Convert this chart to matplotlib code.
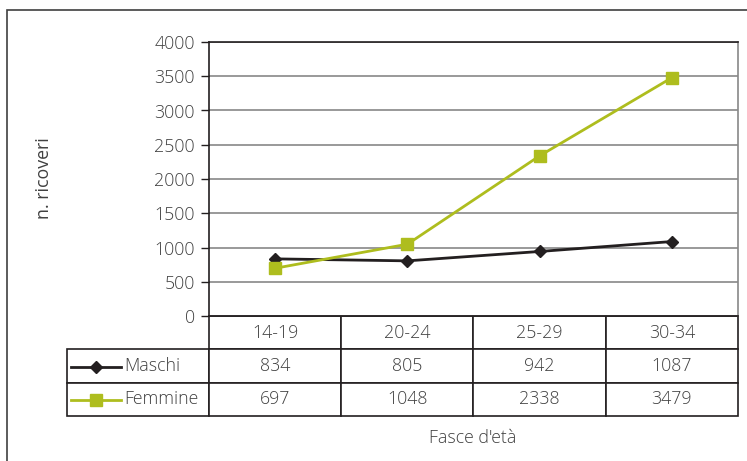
import matplotlib.pyplot as plt
from matplotlib.lines import Line2D

categories = ["14-19", "20-24", "25-29", "30-34"]
maschi = [834, 805, 942, 1087]
femmine = [697, 1048, 2338, 3479]
series_names = ["Maschi", "Femmine"]
y_ticks = [0, 500, 1000, 1500, 2000, 2500, 3000, 3500, 4000]

black = "#231f20"
green = "#aebd1e"
text_color = "#404040"
fs = 12.8

plt.rcParams["font.family"] = ["Open Sans", "DejaVu Sans"]
plt.rcParams["font.weight"] = "light"
plt.rcParams["font.size"] = fs

W, H = 747, 461
fig = plt.figure(figsize=(W / 100, H / 100), dpi=100)

# outer frame (runs off the right and bottom edges)
frame = plt.Rectangle((7 / W, -0.1), 1.1, 1 - 10 / H + 0.1, transform=fig.transFigure,
                      fill=False, edgecolor="#404040", linewidth=1.2)
fig.add_artist(frame)

left, right, top, bottom = 209, 738, 42, 316
ax = fig.add_axes([left / W, 1 - bottom / H, (right - left) / W, (bottom - top) / H])

x = range(len(categories))
ax.plot(x, maschi, color=black, linewidth=2, marker="D", markersize=6, zorder=3)
ax.plot(x, femmine, color=green, linewidth=2, marker="s", markersize=8, zorder=3)

ax.set_xlim(-0.5, len(categories) - 0.5)
ax.set_ylim(0, 4000)
ax.set_yticks(y_ticks)
ax.set_xticks([])
ax.yaxis.grid(True, color="#888888", linewidth=1.2)
ax.set_axisbelow(True)
ax.tick_params(axis="y", colors=black, labelcolor=text_color, length=6, width=1, pad=4,
               labelsize=fs)
ax.spines["left"].set_color(black)
ax.spines["top"].set_color(black)
ax.spines["bottom"].set_color(black)
ax.spines["right"].set_color("#888888")
for s in ax.spines.values():
    s.set_linewidth(1.2)

w_axes = right - left
h_axes = bottom - top
ax.set_ylabel("n. ricoveri", color=text_color, fontsize=fs)
ax.yaxis.set_label_coords((53 - left) / w_axes, (bottom - 178) / h_axes)

# data table below the plot
tab_left = 67
label_w = left - tab_left
col_w = w_axes / len(categories)
cell_text = [[""] + categories,
             [series_names[0]] + [str(v) for v in maschi],
             [series_names[1]] + [str(v) for v in femmine]]
table = ax.table(cellText=cell_text,
                 colWidths=[label_w] + [col_w] * len(categories),
                 cellLoc="center",
                 bbox=[(tab_left - left) / w_axes, -100 / h_axes,
                       (right - tab_left) / w_axes, 100 / h_axes])
table.auto_set_font_size(False)
table.set_fontsize(fs)
for (r, c), cell in table.get_celld().items():
    cell.set_edgecolor(black)
    cell.set_linewidth(1.2)
    cell.get_text().set_color(text_color)
    if c == 0:
        if r == 0:
            cell.visible_edges = ""
        else:
            cell._loc = "left"
            cell.get_text().set_horizontalalignment("left")
            cell.PAD = 57 / label_w

# legend keys inside the table
for i, (col, mk, ms) in enumerate([(black, "D", 6), (green, "s", 8)]):
    yc = (bottom - (366.5 + 33 * i)) / h_axes
    x0 = (71 - left) / w_axes
    x1 = (121 - left) / w_axes
    ax.add_line(Line2D([x0, x1], [yc, yc], transform=ax.transAxes, color=col,
                       linewidth=2, clip_on=False))
    ax.add_line(Line2D([(x0 + x1) / 2], [yc], transform=ax.transAxes, color=col,
                       marker=mk, markersize=ms, clip_on=False))

fig.text(473 / W, 1 - 438 / H, "Fasce d'età", ha="center", va="center",
         color=text_color, fontsize=fs)

plt.savefig("out.png", dpi=100)
